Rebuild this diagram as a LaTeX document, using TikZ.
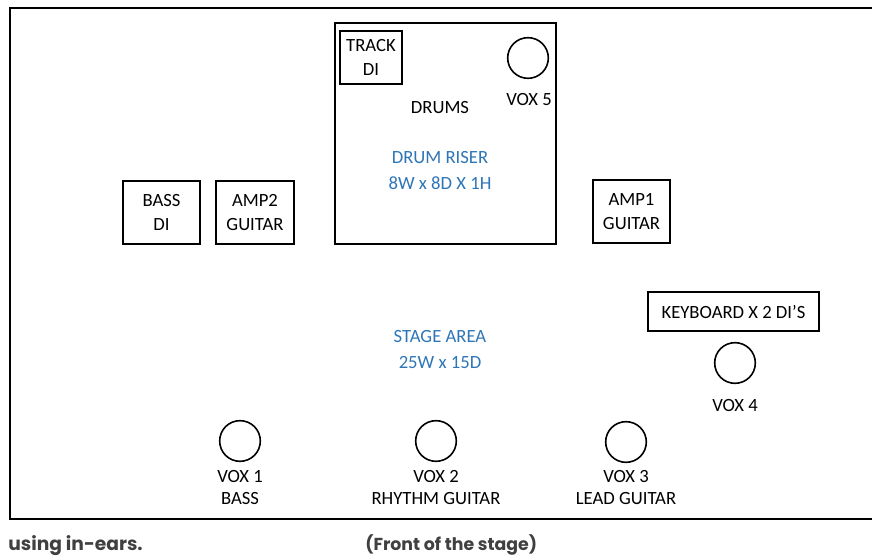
\documentclass[tikz,border=0pt]{standalone}
\usepackage{fontspec}
\setmainfont{Carlito}
\newfontfamily\gothic{Poppins}
\definecolor{riserblue}{HTML}{2E75B6}
\definecolor{notegrey}{HTML}{404040}
\tikzset{
  gear/.style={draw,line width=1.5pt,align=center,inner sep=0pt,
    font=\fontsize{14}{18}\selectfont},
  mic/.style={draw,circle,line width=1.2pt,minimum size=30.5pt,inner sep=0pt},
  tag/.style={align=center,inner sep=0pt,font=\fontsize{14}{16.5}\selectfont},
  area/.style={align=center,inner sep=0pt,text=riserblue,
    font=\fontsize{14}{19.5}\selectfont},
  note/.style={anchor=west,inner sep=0pt,text=notegrey}
}
\begin{document}
\begin{tikzpicture}[x=0.75pt,y=-0.75pt]
  \useasboundingbox (0,0) rectangle (872,556);
  % stage outline, open on the right
  \draw [line width=1.2pt](885,8) -- (10,8) -- (10,519) -- (885,519);
  % drum riser
  \node [gear,minimum width=165.75pt,minimum height=165.75pt] (riser) at (445.5,133.5) {};
  \node [gear,minimum width=46.5pt,minimum height=39.75pt] (track) at (371,57.5) {TRACK\\DI};
  \node [mic] (vox5) at (528,58) {};
  \node [tag] (vox5t) at (529,100) {VOX 5};
  \node [tag] (drums) at (440,108) {DRUMS};
  \node [area] (riserdim) at (440,171) {DRUM RISER\\8W x 8D X 1H};
  % backline
  \node [gear,minimum width=57.75pt,minimum height=47.25pt] (bassdi) at (161.5,212.5) {BASS\\DI};
  \node [gear,minimum width=58.5pt,minimum height=47.25pt] (amp2) at (255,212.5) {AMP2\\GUITAR};
  \node [gear,minimum width=57.75pt,minimum height=47.25pt] (amp1) at (631.5,211.5) {AMP1\\GUITAR};
  \node [gear,minimum width=128.25pt,minimum height=29.25pt] (keys) at (733.5,311.5) {KEYBOARD X 2 DI'S};
  \node [mic] (vox4) at (735,363) {};
  \node [tag] (vox4t) at (735,406) {VOX 4};
  \node [area] (stagedim) at (440,350) {STAGE AREA\\25W x 15D};
  % front line
  \node [mic] (vox1) at (240,441) {};
  \node [tag] (vox1t) at (240,488) {VOX 1\\BASS};
  \node [mic] (vox2) at (436,441) {};
  \node [tag] (vox2t) at (436,488) {VOX 2\\RHYTHM GUITAR};
  \node [mic] (vox3) at (626,442) {};
  \node [tag] (vox3t) at (626,488) {VOX 3\\LEAD GUITAR};
  % notes under the stage
  \node [note,font=\gothic\bfseries\fontsize{14}{16}\selectfont] (ears) at (8,546) {using in-ears.};
  \node [note,font=\gothic\bfseries\fontsize{13}{15}\selectfont] (front) at (365,545) {(Front of the stage)};
\end{tikzpicture}
\end{document}
